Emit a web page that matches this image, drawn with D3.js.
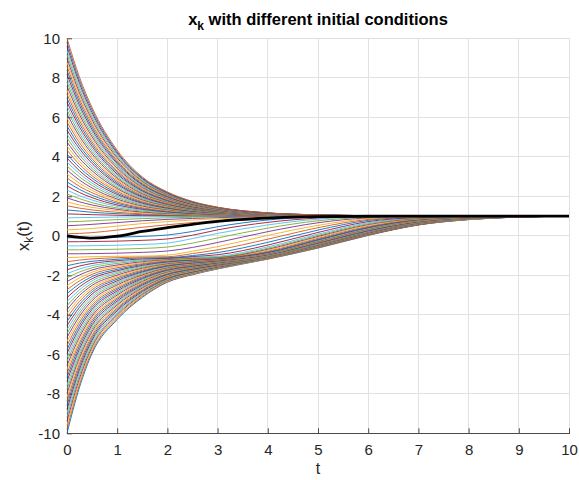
<!DOCTYPE html>
<html>
<head>
<meta charset="utf-8">
<script src="https://cdn.jsdelivr.net/npm/d3@7"></script>
<style>
  body { margin: 0; background: #fff; }
  svg { display: block; }
  text { font-family: "Liberation Sans", Arial, Helvetica, sans-serif; }
</style>
</head>
<body>
<svg id="chart" width="579" height="480"></svg>
<script>
// Sample times shared by every trajectory
const timePoints = [0, 0.25, 0.5, 1, 1.5, 2, 2.5, 3, 4, 5, 6, 7, 8, 9, 10];

// Trajectories starting below zero (x0 from -10 up to -0.1)
const trajectoriesBelow = [
  [-10, -7.66, -5.95, -4.24, -3.12, -2.35, -1.97, -1.68, -1.18, -0.62, 0.02, 0.55, 0.82, 0.95, 0.99],
  [-9.8, -7.51, -5.84, -4.17, -3.07, -2.32, -1.95, -1.66, -1.17, -0.61, 0.03, 0.55, 0.82, 0.95, 0.99],
  [-9.6, -7.36, -5.73, -4.09, -3.02, -2.29, -1.93, -1.65, -1.17, -0.61, 0.03, 0.56, 0.83, 0.95, 0.99],
  [-9.39, -7.21, -5.62, -4.02, -2.97, -2.26, -1.91, -1.63, -1.16, -0.60, 0.04, 0.56, 0.83, 0.95, 0.99],
  [-9.19, -7.06, -5.51, -3.95, -2.93, -2.23, -1.89, -1.61, -1.16, -0.59, 0.04, 0.57, 0.83, 0.95, 0.99],
  [-8.99, -6.91, -5.39, -3.88, -2.88, -2.20, -1.86, -1.60, -1.15, -0.59, 0.05, 0.57, 0.83, 0.95, 0.99],
  [-8.79, -6.76, -5.28, -3.80, -2.83, -2.17, -1.84, -1.58, -1.14, -0.58, 0.05, 0.57, 0.84, 0.95, 0.99],
  [-8.59, -6.61, -5.17, -3.73, -2.78, -2.14, -1.82, -1.57, -1.14, -0.57, 0.06, 0.58, 0.84, 0.95, 0.99],
  [-8.38, -6.46, -5.06, -3.66, -2.74, -2.11, -1.80, -1.55, -1.13, -0.57, 0.06, 0.58, 0.84, 0.95, 0.99],
  [-8.18, -6.31, -4.95, -3.59, -2.69, -2.08, -1.78, -1.54, -1.13, -0.56, 0.07, 0.59, 0.84, 0.96, 0.99],
  [-7.98, -6.16, -4.84, -3.51, -2.64, -2.05, -1.75, -1.52, -1.12, -0.55, 0.07, 0.59, 0.85, 0.96, 1],
  [-7.78, -6.02, -4.73, -3.44, -2.59, -2.02, -1.73, -1.51, -1.11, -0.55, 0.08, 0.59, 0.85, 0.96, 1],
  [-7.58, -5.87, -4.62, -3.37, -2.55, -1.99, -1.71, -1.49, -1.11, -0.54, 0.08, 0.60, 0.85, 0.96, 1],
  [-7.37, -5.72, -4.51, -3.30, -2.50, -1.96, -1.69, -1.48, -1.10, -0.53, 0.09, 0.60, 0.86, 0.96, 1],
  [-7.17, -5.57, -4.39, -3.22, -2.45, -1.93, -1.67, -1.46, -1.09, -0.53, 0.10, 0.61, 0.86, 0.96, 1],
  [-6.97, -5.42, -4.28, -3.15, -2.40, -1.90, -1.64, -1.45, -1.09, -0.52, 0.10, 0.61, 0.86, 0.96, 1],
  [-6.77, -5.27, -4.17, -3.08, -2.36, -1.87, -1.62, -1.43, -1.08, -0.51, 0.11, 0.62, 0.86, 0.96, 1],
  [-6.57, -5.12, -4.06, -3.00, -2.31, -1.83, -1.60, -1.42, -1.07, -0.50, 0.12, 0.63, 0.87, 0.96, 1],
  [-6.36, -4.97, -3.95, -2.93, -2.26, -1.80, -1.58, -1.40, -1.06, -0.49, 0.13, 0.63, 0.87, 0.97, 1],
  [-6.16, -4.82, -3.84, -2.86, -2.21, -1.77, -1.56, -1.39, -1.05, -0.48, 0.14, 0.64, 0.88, 0.97, 1],
  [-5.96, -4.67, -3.73, -2.79, -2.17, -1.74, -1.54, -1.37, -1.04, -0.47, 0.15, 0.65, 0.88, 0.97, 1],
  [-5.76, -4.52, -3.62, -2.71, -2.12, -1.71, -1.51, -1.36, -1.03, -0.46, 0.16, 0.65, 0.88, 0.97, 1],
  [-5.56, -4.37, -3.51, -2.64, -2.07, -1.68, -1.49, -1.34, -1.03, -0.45, 0.17, 0.66, 0.89, 0.97, 1],
  [-5.35, -4.22, -3.40, -2.57, -2.02, -1.65, -1.47, -1.33, -1.02, -0.44, 0.18, 0.67, 0.89, 0.98, 1],
  [-5.15, -4.07, -3.28, -2.49, -1.98, -1.62, -1.45, -1.31, -1.01, -0.43, 0.19, 0.67, 0.90, 0.98, 1],
  [-4.95, -3.92, -3.17, -2.42, -1.93, -1.59, -1.43, -1.30, -1.00, -0.42, 0.21, 0.68, 0.90, 0.98, 1],
  [-4.75, -3.77, -3.06, -2.35, -1.88, -1.56, -1.40, -1.28, -0.98, -0.39, 0.23, 0.70, 0.91, 0.98, 1],
  [-4.55, -3.62, -2.95, -2.28, -1.83, -1.53, -1.38, -1.27, -0.96, -0.37, 0.25, 0.71, 0.91, 0.98, 1],
  [-4.34, -3.47, -2.84, -2.20, -1.79, -1.50, -1.36, -1.25, -0.95, -0.35, 0.27, 0.73, 0.92, 0.98, 1],
  [-4.14, -3.32, -2.73, -2.13, -1.74, -1.47, -1.34, -1.24, -0.93, -0.33, 0.30, 0.74, 0.92, 0.98, 1],
  [-3.94, -3.17, -2.62, -2.06, -1.69, -1.44, -1.32, -1.22, -0.92, -0.30, 0.32, 0.75, 0.93, 0.99, 1],
  [-3.74, -3.02, -2.51, -1.99, -1.64, -1.41, -1.30, -1.21, -0.90, -0.28, 0.34, 0.77, 0.93, 0.99, 1],
  [-3.54, -2.88, -2.40, -1.91, -1.60, -1.38, -1.27, -1.19, -0.88, -0.26, 0.36, 0.78, 0.94, 0.99, 1],
  [-3.33, -2.73, -2.28, -1.84, -1.55, -1.35, -1.25, -1.17, -0.87, -0.24, 0.38, 0.80, 0.94, 0.99, 1],
  [-3.13, -2.58, -2.17, -1.77, -1.50, -1.32, -1.23, -1.16, -0.85, -0.21, 0.41, 0.81, 0.95, 0.99, 1],
  [-2.93, -2.43, -2.06, -1.70, -1.45, -1.29, -1.21, -1.14, -0.82, -0.18, 0.44, 0.83, 0.95, 0.99, 1],
  [-2.73, -2.28, -1.95, -1.62, -1.41, -1.26, -1.19, -1.13, -0.78, -0.13, 0.48, 0.84, 0.96, 0.99, 1],
  [-2.53, -2.13, -1.84, -1.55, -1.36, -1.23, -1.17, -1.11, -0.73, -0.08, 0.52, 0.86, 0.96, 0.99, 1],
  [-2.32, -1.98, -1.73, -1.48, -1.31, -1.20, -1.14, -1.10, -0.68, -0.03, 0.57, 0.88, 0.97, 1, 1],
  [-2.12, -1.83, -1.62, -1.40, -1.26, -1.17, -1.12, -1.08, -0.63, 0.02, 0.61, 0.90, 0.98, 1, 1],
  [-1.92, -1.68, -1.51, -1.33, -1.22, -1.15, -1.09, -1.04, -0.56, 0.08, 0.66, 0.92, 0.98, 1, 1],
  [-1.72, -1.53, -1.40, -1.26, -1.17, -1.14, -1.05, -0.96, -0.47, 0.17, 0.72, 0.93, 0.99, 1, 1],
  [-1.52, -1.38, -1.29, -1.19, -1.12, -1.11, -1.00, -0.85, -0.33, 0.29, 0.78, 0.95, 0.99, 1, 1],
  [-1.31, -1.23, -1.17, -1.11, -1.07, -1.06, -0.90, -0.71, -0.17, 0.41, 0.83, 0.96, 0.99, 1, 1],
  [-1.11, -1.08, -1.06, -1.04, -1.03, -0.98, -0.78, -0.55, 0.02, 0.53, 0.87, 0.97, 1, 1, 1],
  [-0.91, -0.91, -0.90, -0.88, -0.84, -0.77, -0.59, -0.34, 0.21, 0.66, 0.91, 0.98, 1, 1, 1],
  [-0.71, -0.71, -0.70, -0.68, -0.64, -0.57, -0.37, -0.11, 0.39, 0.76, 0.94, 0.99, 1, 1, 1],
  [-0.51, -0.51, -0.50, -0.48, -0.44, -0.37, -0.14, 0.12, 0.55, 0.84, 0.96, 0.99, 1, 1, 1],
  [-0.30, -0.30, -0.29, -0.27, -0.23, -0.16, 0.03, 0.30, 0.68, 0.90, 0.98, 1, 1, 1, 1],
  [-0.10, -0.10, -0.09, -0.07, -0.03, 0.04, 0.22, 0.46, 0.80, 0.95, 0.99, 1, 1, 1, 1]
];

// Trajectories starting above zero (x0 from 0.1 up to 10)
const trajectoriesAbove = [
  [0.10, 0.12, 0.16, 0.29, 0.43, 0.56, 0.67, 0.76, 0.89, 0.95, 0.98, 0.99, 1, 1, 1],
  [0.30, 0.33, 0.37, 0.49, 0.62, 0.72, 0.80, 0.86, 0.94, 0.97, 0.99, 1, 1, 1, 1],
  [0.51, 0.54, 0.58, 0.67, 0.76, 0.83, 0.88, 0.92, 0.97, 0.99, 1, 1, 1, 1, 1],
  [0.71, 0.73, 0.76, 0.82, 0.87, 0.91, 0.94, 0.96, 0.98, 0.99, 1, 1, 1, 1, 1],
  [0.91, 0.92, 0.93, 0.95, 0.96, 0.97, 0.98, 0.99, 1, 1, 1, 1, 1, 1, 1],
  [1.11, 1.09, 1.07, 1.04, 1.02, 1.02, 1.01, 1.01, 1, 1, 1, 1, 1, 1, 1],
  [1.31, 1.25, 1.19, 1.12, 1.07, 1.04, 1.03, 1.02, 1.01, 1, 1, 1, 1, 1, 1],
  [1.52, 1.40, 1.31, 1.19, 1.11, 1.07, 1.04, 1.03, 1.01, 1, 1, 1, 1, 1, 1],
  [1.72, 1.56, 1.44, 1.27, 1.16, 1.10, 1.06, 1.04, 1.01, 1.01, 1, 1, 1, 1, 1],
  [1.92, 1.72, 1.56, 1.34, 1.20, 1.13, 1.08, 1.05, 1.02, 1.01, 1, 1, 1, 1, 1],
  [2.12, 1.88, 1.68, 1.41, 1.25, 1.15, 1.09, 1.06, 1.02, 1.01, 1, 1, 1, 1, 1],
  [2.32, 2.03, 1.81, 1.49, 1.29, 1.18, 1.11, 1.07, 1.02, 1.01, 1, 1, 1, 1, 1],
  [2.53, 2.19, 1.93, 1.56, 1.34, 1.21, 1.13, 1.08, 1.03, 1.01, 1, 1, 1, 1, 1],
  [2.73, 2.35, 2.05, 1.64, 1.38, 1.23, 1.14, 1.09, 1.03, 1.01, 1, 1, 1, 1, 1],
  [2.93, 2.50, 2.18, 1.71, 1.42, 1.26, 1.16, 1.10, 1.03, 1.01, 1.01, 1, 1, 1, 1],
  [3.13, 2.66, 2.30, 1.79, 1.47, 1.29, 1.18, 1.11, 1.04, 1.01, 1.01, 1, 1, 1, 1],
  [3.33, 2.82, 2.42, 1.86, 1.51, 1.32, 1.19, 1.12, 1.04, 1.02, 1.01, 1, 1, 1, 1],
  [3.54, 2.98, 2.55, 1.94, 1.56, 1.34, 1.21, 1.13, 1.05, 1.02, 1.01, 1, 1, 1, 1],
  [3.74, 3.14, 2.67, 2.01, 1.60, 1.37, 1.22, 1.14, 1.05, 1.02, 1.01, 1, 1, 1, 1],
  [3.94, 3.29, 2.79, 2.09, 1.65, 1.40, 1.24, 1.15, 1.05, 1.02, 1.01, 1, 1, 1, 1],
  [4.14, 3.45, 2.92, 2.16, 1.69, 1.43, 1.26, 1.16, 1.06, 1.02, 1.01, 1, 1, 1, 1],
  [4.34, 3.61, 3.04, 2.24, 1.73, 1.45, 1.28, 1.17, 1.06, 1.02, 1.01, 1, 1, 1, 1],
  [4.55, 3.77, 3.16, 2.31, 1.78, 1.48, 1.29, 1.18, 1.06, 1.02, 1.01, 1, 1, 1, 1],
  [4.75, 3.92, 3.29, 2.39, 1.82, 1.51, 1.31, 1.19, 1.07, 1.03, 1.01, 1, 1, 1, 1],
  [4.95, 4.08, 3.41, 2.46, 1.87, 1.53, 1.32, 1.20, 1.07, 1.03, 1.01, 1, 1, 1, 1],
  [5.15, 4.24, 3.53, 2.54, 1.91, 1.56, 1.34, 1.21, 1.07, 1.03, 1.01, 1, 1, 1, 1],
  [5.35, 4.40, 3.66, 2.61, 1.96, 1.59, 1.36, 1.22, 1.08, 1.03, 1.01, 1, 1, 1, 1],
  [5.56, 4.55, 3.78, 2.68, 2.00, 1.62, 1.37, 1.23, 1.08, 1.03, 1.01, 1, 1, 1, 1],
  [5.76, 4.71, 3.90, 2.76, 2.05, 1.64, 1.39, 1.24, 1.09, 1.03, 1.01, 1, 1, 1, 1],
  [5.96, 4.87, 4.03, 2.83, 2.09, 1.67, 1.41, 1.25, 1.09, 1.03, 1.01, 1, 1, 1, 1],
  [6.16, 5.03, 4.15, 2.91, 2.13, 1.70, 1.42, 1.26, 1.09, 1.04, 1.01, 1, 1, 1, 1],
  [6.36, 5.18, 4.27, 2.98, 2.18, 1.73, 1.44, 1.27, 1.10, 1.04, 1.01, 1, 1, 1, 1],
  [6.57, 5.34, 4.39, 3.06, 2.22, 1.75, 1.46, 1.28, 1.10, 1.04, 1.01, 1, 1, 1, 1],
  [6.77, 5.50, 4.52, 3.13, 2.27, 1.78, 1.47, 1.29, 1.10, 1.04, 1.01, 1, 1, 1, 1],
  [6.97, 5.66, 4.64, 3.21, 2.31, 1.81, 1.49, 1.30, 1.11, 1.04, 1.01, 1, 1, 1, 1],
  [7.17, 5.82, 4.76, 3.28, 2.36, 1.83, 1.51, 1.31, 1.11, 1.04, 1.02, 1, 1, 1, 1],
  [7.37, 5.97, 4.89, 3.36, 2.40, 1.86, 1.52, 1.32, 1.11, 1.04, 1.02, 1, 1, 1, 1],
  [7.58, 6.13, 5.01, 3.43, 2.45, 1.89, 1.54, 1.33, 1.12, 1.05, 1.02, 1, 1, 1, 1],
  [7.78, 6.29, 5.13, 3.51, 2.49, 1.92, 1.56, 1.34, 1.12, 1.05, 1.02, 1, 1, 1, 1],
  [7.98, 6.45, 5.26, 3.58, 2.53, 1.94, 1.57, 1.35, 1.12, 1.05, 1.02, 1, 1, 1, 1],
  [8.18, 6.60, 5.38, 3.66, 2.58, 1.97, 1.59, 1.36, 1.13, 1.05, 1.02, 1.01, 1, 1, 1],
  [8.38, 6.76, 5.50, 3.73, 2.62, 2.00, 1.61, 1.37, 1.13, 1.05, 1.02, 1.01, 1, 1, 1],
  [8.59, 6.92, 5.63, 3.80, 2.67, 2.03, 1.62, 1.38, 1.14, 1.05, 1.02, 1.01, 1, 1, 1],
  [8.79, 7.08, 5.75, 3.88, 2.71, 2.05, 1.64, 1.39, 1.14, 1.05, 1.02, 1.01, 1, 1, 1],
  [8.99, 7.23, 5.87, 3.95, 2.76, 2.08, 1.66, 1.40, 1.14, 1.06, 1.02, 1.01, 1, 1, 1],
  [9.19, 7.39, 6.00, 4.03, 2.80, 2.11, 1.67, 1.41, 1.15, 1.06, 1.02, 1.01, 1, 1, 1],
  [9.39, 7.55, 6.12, 4.10, 2.84, 2.14, 1.69, 1.42, 1.15, 1.06, 1.02, 1.01, 1, 1, 1],
  [9.60, 7.71, 6.24, 4.18, 2.89, 2.16, 1.71, 1.43, 1.15, 1.06, 1.02, 1.01, 1, 1, 1],
  [9.80, 7.86, 6.37, 4.25, 2.93, 2.19, 1.72, 1.44, 1.16, 1.06, 1.02, 1.01, 1, 1, 1],
  [10, 8.02, 6.49, 4.33, 2.98, 2.22, 1.74, 1.45, 1.16, 1.06, 1.02, 1.01, 1, 1, 1]
];

// Highlighted trajectory from x0 = 0
const referenceTrajectory = [0, -0.08, -0.12, -0.02, 0.22, 0.41, 0.58, 0.73, 0.90, 0.97, 0.99, 1, 1, 1, 1];

const xTickValues = [0, 1, 2, 3, 4, 5, 6, 7, 8, 9, 10];
const yTickValues = [-10, -8, -6, -4, -2, 0, 2, 4, 6, 8, 10];

// Default line colour cycle
const lineColors = ["#0072BD", "#D95319", "#EDB120", "#7E2F8E", "#77AC30", "#4DBEEE", "#A2142F"];

const svg = d3.select("#chart");
const textColor = "#262626";

const x = d3.scaleLinear().domain([0, 10]).range([67, 569]);
const y = d3.scaleLinear().domain([-10, 10]).range([433.3, 38.3]);

// Grid
const grid = svg.append("g").attr("stroke", "#e1e1e1").attr("stroke-width", 1)
  .attr("shape-rendering", "crispEdges");
grid.selectAll("line.gx").data(xTickValues.slice(1)).join("line")
  .attr("x1", d => x(d)).attr("x2", d => x(d))
  .attr("y1", y(-10)).attr("y2", y(10));
grid.selectAll("line.gy").data(yTickValues.slice(1)).join("line")
  .attr("x1", x(0)).attr("x2", x(10))
  .attr("y1", d => y(d)).attr("y2", d => y(d));

// Axes with inward ticks
const xAxis = d3.axisBottom(x).tickValues(xTickValues)
  .tickSizeInner(-5).tickSizeOuter(0).tickPadding(11);
const yAxis = d3.axisLeft(y).tickValues(yTickValues)
  .tickSizeInner(-5).tickSizeOuter(0).tickPadding(7);

const gx = svg.append("g").attr("transform", `translate(0,${y(-10)})`).call(xAxis);
const gy = svg.append("g").attr("transform", `translate(${x(0)},0)`).call(yAxis);
[gx, gy].forEach(g => {
  g.select(".domain").attr("stroke", "#4a4a4a").attr("shape-rendering", "crispEdges");
  g.selectAll(".tick line").attr("stroke", "#4a4a4a");
  g.selectAll(".tick text").attr("fill", textColor)
    .style("font-size", "15px").style("font-family", "\"Liberation Sans\", Arial, sans-serif")
    .text(d => String(d));
});

// Trajectories
const line = d3.line()
  .x((d, j) => x(timePoints[j]))
  .y(d => y(d))
  .curve(d3.curveMonotoneX);

const allTrajectories = trajectoriesBelow.concat(trajectoriesAbove);
svg.append("g").attr("fill", "none")
  .selectAll("path").data(allTrajectories).join("path")
  .attr("d", line)
  .attr("stroke", (d, i) => lineColors[i % lineColors.length])
  .attr("stroke-width", 0.9);

svg.append("path").datum(referenceTrajectory)
  .attr("d", line).attr("fill", "none")
  .attr("stroke", "#000").attr("stroke-width", 2.8);

// Title
const title = svg.append("text").attr("x", 318).attr("y", 25)
  .attr("text-anchor", "middle").attr("fill", "#000")
  .style("font-size", "16.5px").style("font-weight", "bold");
title.append("tspan").text("x");
title.append("tspan").attr("dy", 5).style("font-size", "12px").text("k");
title.append("tspan").attr("dy", -5).text(" with different initial conditions");

// Axis labels
svg.append("text").attr("x", 318).attr("y", 474)
  .attr("text-anchor", "middle").attr("fill", textColor)
  .style("font-size", "16px").text("t");

const ylab = svg.append("text")
  .attr("transform", "translate(29,236) rotate(-90)")
  .attr("text-anchor", "middle").attr("fill", textColor)
  .style("font-size", "16.5px");
ylab.append("tspan").text("x");
ylab.append("tspan").attr("dy", 4).style("font-size", "12px").text("k");
ylab.append("tspan").attr("dy", -4).text("(t)");
</script>
</body>
</html>
